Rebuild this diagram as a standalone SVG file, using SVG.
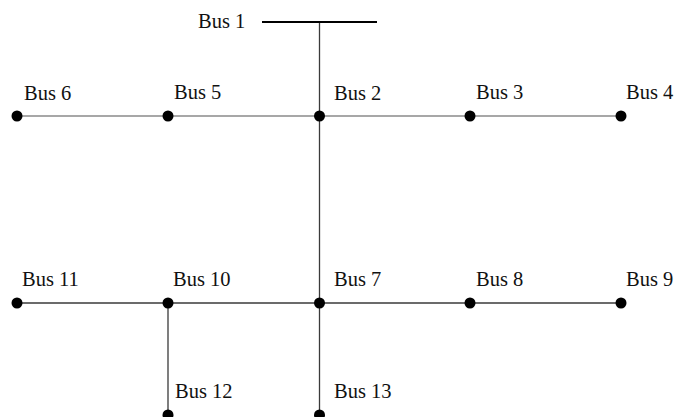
<svg xmlns="http://www.w3.org/2000/svg" width="675" height="417" viewBox="0 0 675 417">
<style>
.lbl{font-family:'Liberation Serif',serif;font-size:20.5px;fill:#111}
.dot{fill:#000}
.gl{stroke:#8a8a8a;stroke-width:1.5;fill:none}
.dl{stroke:#3a3a3a;stroke-width:1.3;fill:none}
</style>
<rect width="675" height="417" fill="#fff"/>
<g id="connectors">
<line class="gl" x1="17" y1="116" x2="621" y2="116"/>
<line class="dl" x1="17" y1="303" x2="621" y2="303"/>
<line class="dl" x1="319.5" y1="22" x2="319.5" y2="417"/>
<line class="dl" x1="168" y1="303" x2="168" y2="417"/>
</g>
<g id="bus1"><line x1="262" y1="22" x2="377" y2="22" stroke="#000" stroke-width="2"/><text class="lbl" x="198" y="28">Bus 1</text></g>
<g id="bus2"><circle class="dot" cx="319.5" cy="116" r="5.5"/><text class="lbl" x="334" y="100">Bus 2</text></g>
<g id="bus3"><circle class="dot" cx="470" cy="116" r="5.5"/><text class="lbl" x="476" y="99">Bus 3</text></g>
<g id="bus4"><circle class="dot" cx="621" cy="116" r="5.5"/><text class="lbl" x="626" y="99">Bus 4</text></g>
<g id="bus5"><circle class="dot" cx="168" cy="116" r="5.5"/><text class="lbl" x="174" y="99">Bus 5</text></g>
<g id="bus6"><circle class="dot" cx="17" cy="116" r="5.5"/><text class="lbl" x="24" y="100">Bus 6</text></g>
<g id="bus7"><circle class="dot" cx="319.5" cy="303" r="5.5"/><text class="lbl" x="334" y="286">Bus 7</text></g>
<g id="bus8"><circle class="dot" cx="470" cy="303" r="5.5"/><text class="lbl" x="476" y="286">Bus 8</text></g>
<g id="bus9"><circle class="dot" cx="621" cy="303" r="5.5"/><text class="lbl" x="626" y="286">Bus 9</text></g>
<g id="bus10"><circle class="dot" cx="168" cy="303" r="5.5"/><text class="lbl" x="173" y="286">Bus 10</text></g>
<g id="bus11"><circle class="dot" cx="17" cy="303" r="5.5"/><text class="lbl" x="22" y="286">Bus 11</text></g>
<g id="bus12"><circle class="dot" cx="168" cy="415" r="5.5"/><text class="lbl" x="175" y="398">Bus 12</text></g>
<g id="bus13"><circle class="dot" cx="319.5" cy="415" r="5.5"/><text class="lbl" x="334" y="398">Bus 13</text></g>
</svg>
